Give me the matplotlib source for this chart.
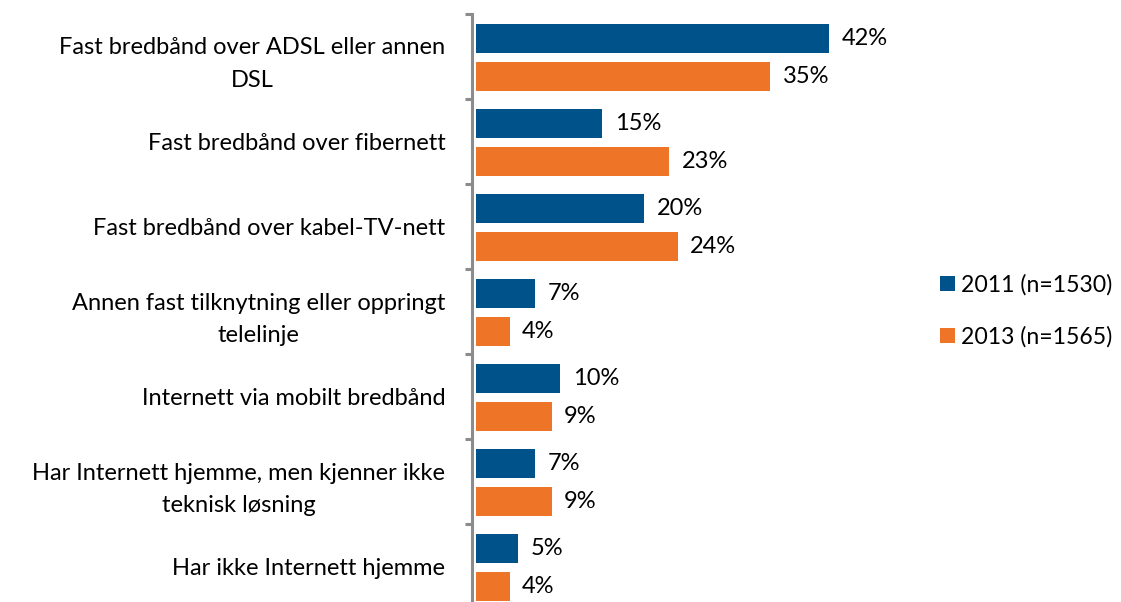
import numpy as np
import matplotlib.pyplot as plt

# Kategorier og verdier (%)
categories = [
    'Fast bredbånd over ADSL eller annen\nDSL',
    'Fast bredbånd over fibernett',
    'Fast bredbånd over kabel-TV-nett',
    'Annen fast tilknytning eller oppringt\ntelelinje',
    'Internett via mobilt bredbånd',
    'Har Internett hjemme, men kjenner ikke\nteknisk løsning',
    'Har ikke Internett hjemme',
]
values_2011 = [42, 15, 20, 7, 10, 7, 5]
values_2013 = [35, 23, 24, 4, 9, 9, 4]
label_2011 = '2011 (n=1530)'
label_2013 = '2013 (n=1565)'

blue = '#00528A'
orange = '#EE7428'
grey = '#8C8C8C'

plt.rcParams['font.family'] = ['Lato', 'DejaVu Sans']

fig = plt.figure(figsize=(11.21, 6.02), dpi=100)
ax = fig.add_axes([476 / 1121, -7 / 602, 420 / 1121, 595 / 602])

y = np.arange(len(categories))
h = 0.34
b1 = ax.barh(y - 0.215, values_2011, height=h, color=blue, label=label_2011)
b2 = ax.barh(y + 0.23, values_2013, height=h, color=orange, label=label_2013)

for bars in (b1, b2):
    for rect in bars:
        w = rect.get_width()
        ax.text(w + 1.5, rect.get_y() + rect.get_height() / 2, f'{w:.0f}%',
                va='center', ha='left', fontsize=17, color='black')

ax.set_xlim(0, 50)
ax.set_ylim(len(categories) - 0.5, -0.5)

for s in ['top', 'right', 'bottom']:
    ax.spines[s].set_visible(False)
ax.spines['left'].set_color(grey)
ax.spines['left'].set_linewidth(2.2)
ax.spines['left'].set_position(('outward', 3))

ax.set_xticks([])
ax.set_yticks(np.arange(len(categories) + 1) - 0.5)
ax.set_yticklabels([])
ax.tick_params(axis='y', which='major', length=5, width=2.2, color=grey)
ax.set_yticks(y, minor=True)
ax.set_yticklabels(categories, minor=True, fontsize=17, color='black',
                   multialignment='center', linespacing=1.7)
ax.tick_params(axis='y', which='minor', length=0, pad=19)

fig.legend(handles=[b1, b2], loc='center left', bbox_to_anchor=(940 / 1121, 1 - 311 / 602),
           frameon=False, fontsize=16.6, handlelength=0.63, handleheight=0.63,
           handletextpad=0.28, labelspacing=1.3, borderpad=0, borderaxespad=0)

fig.savefig('out.png', dpi=100)
